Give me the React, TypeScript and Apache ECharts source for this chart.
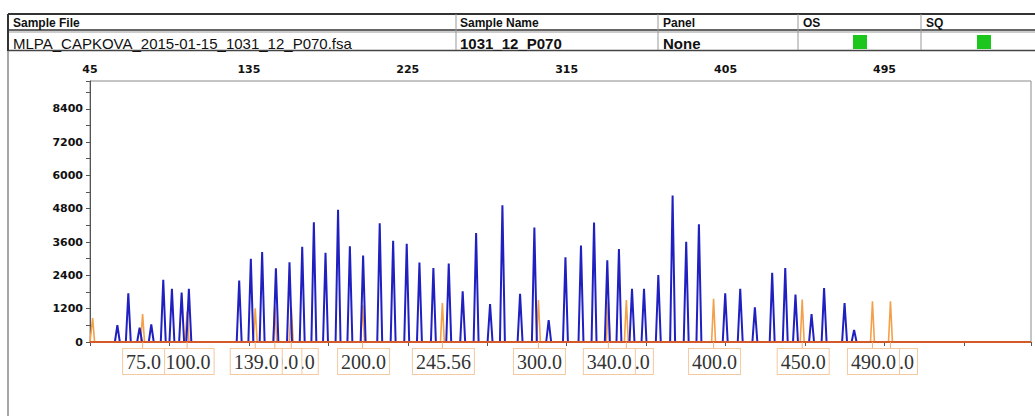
import React, { useEffect, useRef } from "react";
import * as echarts from "echarts";

// ---- axis ranges (size in bp on the top axis, RFU on the left axis) ----
const xMin = 45;
const xMax = 578;
const xInterval = 90;
const yMin = 0;
const yMax = 9400;
const yInterval = 1200;

// ---- blue dye peaks (size in bp, height in RFU) ----
const bluePeakSizes = [
  60.5, 66.7, 73.1, 79.7, 86.5, 91.4, 96.9, 101.0,
  129.5, 136.1, 142.5, 150.3, 158.0, 165.2, 171.8, 178.4, 185.5, 192.2, 199.7,
  209.1, 216.7, 224.4, 231.6, 239.5, 248.2, 256.1, 263.7, 271.6, 278.6,
  288.6, 296.7, 304.8, 314.3, 323.1, 330.5, 338.0, 344.6, 352.0, 358.8,
  366.9, 375.0, 382.7, 389.9,
  404.8, 413.3, 421.6, 431.4, 438.8, 444.6, 453.7, 460.8, 472.4, 477.8,
];
const bluePeakHeights = [
  607, 1756, 520, 630, 2243, 1915, 1782, 1915,
  2218, 2993, 3236, 2654, 2872, 3430, 4315, 3212, 4763, 3450, 3116,
  4279, 3648, 3539, 2861, 2667, 2824, 1830, 3927, 1370, 4920,
  1733, 4121, 788, 3054, 3478, 4303, 2945, 3345, 1915, 1915,
  2412, 5273, 3612, 4242,
  1758, 1915, 1248, 2497, 2667, 1709, 1006, 1939, 1406, 436,
];

// ---- orange size-standard peaks ----
const sizeStdPositions = [46.5, 74.8, 100.0, 138.6, 149.7, 159.0, 199.4, 244.6, 299.0, 338.6, 348.8, 398.2, 448.4, 488.2, 498.4];
const sizeStdHeights = [861, 1006, 1103, 1212, 1285, 1248, 1320, 1406, 1515, 1466, 1515, 1552, 1527, 1466, 1466];
const sizeStdLabels = ["", "75.0", "100.0", "139.0", "150.0", "160.0", "200.0", "245.56", "300.0", "340.0", "350.0", "400.0", "450.0", "490.0", "500.0"];

// ---- header table texts ----
const headerTitles = ["Sample File", "Sample Name", "Panel", "OS", "SQ"];
const headerValues = ["MLPA_CAPKOVA_2015-01-15_1031_12_P070.fsa", "1031_12_P070", "None"];

function peakLine(sizes: number[], heights: number[], halfWidth: number) {
  const pts: number[][] = [[xMin, 0]];
  sizes.forEach((s, i) => {
    pts.push([s - halfWidth, 0], [s, heights[i]], [s + halfWidth, 0]);
  });
  pts.push([xMax, 0]);
  return pts;
}

export default function App() {
  const ref = useRef<HTMLDivElement>(null);

  useEffect(() => {
    if (!ref.current) return;
    const chart = echarts.init(ref.current, undefined, { renderer: "svg" });

    const labelled = sizeStdPositions
      .map((p, i) => ({ p, label: sizeStdLabels[i] }))
      .filter((d) => d.label !== "");

    const colX = [13, 460, 663, 803, 926];
    const dividers = [456, 658, 798, 921];

    const graphic: any[] = [
      { type: "line", shape: { x1: 8, y1: 14, x2: 1035, y2: 14 }, style: { stroke: "#333", lineWidth: 2 } },
      { type: "line", shape: { x1: 8, y1: 30, x2: 1035, y2: 30 }, style: { stroke: "#333", lineWidth: 1.5 } },
      { type: "line", shape: { x1: 8, y1: 32, x2: 1035, y2: 32 }, style: { stroke: "#999", lineWidth: 1 } },
      { type: "line", shape: { x1: 8, y1: 50.5, x2: 1035, y2: 50.5 }, style: { stroke: "#444", lineWidth: 1.5 } },
      { type: "line", shape: { x1: 8, y1: 14, x2: 8, y2: 51 }, style: { stroke: "#333", lineWidth: 2 } },
      { type: "line", shape: { x1: 8, y1: 51, x2: 8, y2: 416 }, style: { stroke: "#888", lineWidth: 1.5 } },
      ...dividers.map((x) => ({
        type: "line",
        shape: { x1: x, y1: 14, x2: x, y2: 50 },
        style: { stroke: "#999", lineWidth: 1 },
      })),
      ...headerTitles.map((t, i) => ({
        type: "text",
        x: colX[i],
        y: 22.5,
        style: { text: t, font: 'bold 12px "Liberation Sans"', fill: "#111", verticalAlign: "middle" },
      })),
      ...headerValues.map((t, i) => ({
        type: "text",
        x: colX[i],
        y: 43,
        style: {
          text: t,
          font: (i === 0 ? "" : "bold ") + '15px "Liberation Sans"',
          fill: "#111",
          verticalAlign: "middle",
        },
      })),
      { type: "rect", shape: { x: 853, y: 35, width: 14, height: 14 }, style: { fill: "#1cc61c" } },
      { type: "rect", shape: { x: 977, y: 35, width: 14, height: 14 }, style: { fill: "#1cc61c" } },
    ];

    chart.setOption({
      animation: false,
      backgroundColor: "#fff",
      graphic,
      grid: {
        left: 90,
        right: 4,
        top: 81,
        bottom: 74,
        show: true,
        borderColor: "#8a8a8a",
        borderWidth: 1,
      },
      xAxis: {
        type: "value",
        position: "top",
        min: xMin,
        max: xMax,
        interval: xInterval,
        axisLine: { show: true, lineStyle: { color: "#777", width: 1 } },
        axisTick: { show: true, inside: true, length: 4, lineStyle: { color: "#555" } },
        minorTick: { show: true, splitNumber: 2, length: 4, lineStyle: { color: "#555" } },
        splitLine: { show: false },
        axisLabel: {
          showMaxLabel: false,
          color: "#111",
          fontFamily: "DejaVu Sans",
          fontWeight: "bold",
          fontSize: 11,
          margin: 6,
          formatter: (v: number) => String(v),
        },
      },
      yAxis: {
        type: "value",
        min: yMin,
        max: yMax,
        interval: yInterval,
        axisLine: { show: true, lineStyle: { color: "#555", width: 1 } },
        axisTick: { show: true, length: 4, lineStyle: { color: "#555" } },
        minorTick: { show: true, splitNumber: 2, length: 4, lineStyle: { color: "#555" } },
        splitLine: { show: false },
        axisLabel: {
          showMaxLabel: false,
          color: "#111",
          fontFamily: "DejaVu Sans",
          fontWeight: "bold",
          fontSize: 11,
          margin: 7,
          formatter: (v: number) => String(v),
        },
      },
      series: [
        {
          name: "Size standard",
          type: "line",
          data: peakLine(sizeStdPositions, sizeStdHeights, 1.1),
          symbol: "none",
          lineStyle: { color: "#f3a04a", width: 1.6 },
          z: 2,
        },
        {
          name: "Blue",
          type: "line",
          data: peakLine(bluePeakSizes, bluePeakHeights, 1.4),
          symbol: "none",
          lineStyle: { color: "#2020c0", width: 2 },
          z: 3,
        },
        {
          name: "Baseline",
          type: "line",
          data: [[xMin, 0], [xMax, 0]],
          symbol: "none",
          lineStyle: { color: "#d55a2a", width: 2 },
          z: 4,
        },
        {
          name: "Size labels",
          type: "custom",
          clip: false,
          z: 5,
          data: labelled.map((d) => [d.p, 0]),
          encode: { x: 0, y: 1 },
          renderItem: (params: any, api: any) => {
            const pt = api.coord([api.value(0), 0]);
            const idx = params.dataIndex;
            return {
              type: "group",
              children: [
                {
                  type: "line",
                  z2: 100 - idx,
                  shape: { x1: pt[0], y1: pt[1], x2: pt[0], y2: pt[1] + 8 },
                  style: { stroke: "#f0b07a", lineWidth: 1 },
                },
                {
                  type: "text",
                  z2: 100 - idx,
                  x: pt[0] + 1,
                  y: pt[1] + 7,
                  style: {
                    text: labelled[idx].label,
                    font: '20px "Liberation Serif"',
                    fill: "#333",
                    align: "center",
                    verticalAlign: "top",
                    backgroundColor: "#fff",
                    borderColor: "#f5c9a0",
                    borderWidth: 1,
                    padding: [3, 3, 2, 3],
                  },
                },
              ],
            };
          },
        },
      ],
    });

    return () => chart.dispose();
  }, []);

  return (
    <div
      ref={ref}
      style={{ position: "absolute", left: 0, top: 0, width: 1035, height: 416, background: "#fff" }}
    />
  );
}
